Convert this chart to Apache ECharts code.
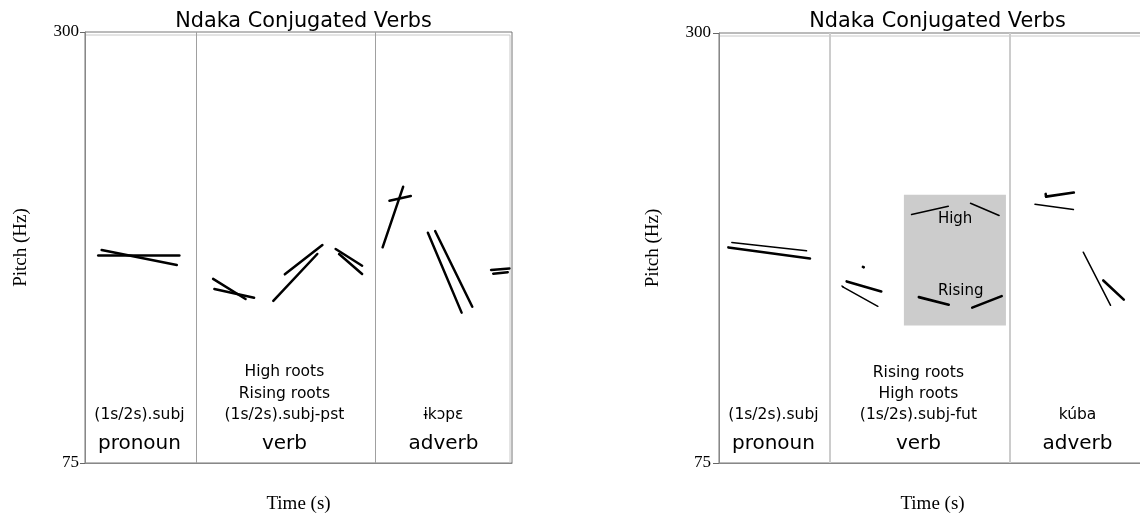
<!DOCTYPE html>
<html>
<head>
<meta charset="utf-8">
<script src="https://cdn.jsdelivr.net/npm/echarts@6/dist/echarts.min.js"></script>
<style>html,body{margin:0;padding:0;background:#fff;overflow:hidden}#c{width:1140px;height:516px}</style>
</head>
<body>
<div id="c"></div>
<script>
// ---------- data ----------
const chartTitle = 'Ndaka Conjugated Verbs';
const yTicks = [75, 300];                 // Pitch (Hz) axis ends
const timeRange = [0, 1];                 // normalised time (s)
const categories = ['pronoun', 'verb', 'adverb'];
const wordBoundaries = [0.255, 0.679];    // time of word boundaries

const leftGlosses = [['(1s/2s).subj'], ['(1s/2s).subj-pst', 'Rising roots', 'High roots'], ['ɨkɔpɛ']];
const rightGlosses = [['(1s/2s).subj'], ['(1s/2s).subj-fut', 'High roots', 'Rising roots'], ['kúba']];

// pitch segments: [t1, Hz1, t2, Hz2]
const leftContours = [
  [0.031, 183.6, 0.221, 183.6],
  [0.039, 186.2, 0.215, 178.4],
  [0.300, 171.1, 0.376, 160.6],
  [0.303, 165.8, 0.396, 161.3],
  [0.441, 159.6, 0.544, 184.1],
  [0.468, 173.5, 0.556, 188.8],
  [0.587, 186.7, 0.649, 178.0],
  [0.595, 184.1, 0.649, 173.7],
  [0.697, 187.6, 0.745, 219.2],
  [0.713, 211.9, 0.763, 214.4],
  [0.803, 195.2, 0.882, 153.5],
  [0.820, 196.1, 0.907, 156.6],
  [0.951, 175.8, 0.994, 176.6],
  [0.956, 173.8, 0.990, 174.6]
];
const rightContoursThick = [
  [0.022, 187.8, 0.213, 182.0],
  [0.299, 170.0, 0.380, 164.8],
  [0.468, 161.8, 0.538, 157.8],
  [0.593, 156.3, 0.662, 162.3],
  [0.766, 214.4, 0.831, 216.5],
  [0.765, 215.8, 0.766, 214.4],
  [0.900, 170.5, 0.948, 160.5],
  [0.337, 177.6, 0.339, 177.4]
];
const rightContoursThin = [
  [0.030, 190.4, 0.205, 186.0],
  [0.291, 167.0, 0.372, 157.0],
  [0.288, 167.6, 0.291, 167.0],
  [0.451, 205.0, 0.537, 209.3],
  [0.589, 210.9, 0.656, 204.5],
  [0.740, 210.4, 0.830, 207.6],
  [0.853, 185.3, 0.917, 157.5]
];
const highlightBox = [0.433, 0.672, 147.0, 215.4];   // t0, t1, Hz0, Hz1
const boxLabels = [['High', 0.553, 202.7], ['Rising', 0.566, 164.8]];

// ---------- build ----------
const SANS = 'DejaVu Sans';
const SERIF = 'Liberation Serif';
const colCenter = i => {
  const b = [timeRange[0], ...wordBoundaries, timeRange[1]];
  return (b[i] + b[i + 1]) / 2;
};
const glossRowHz = [100.1, 111.1, 122.3];
const catRowHz = 84.9;

function seg(s, w) {
  return { coords: [[s[0], s[1]], [s[2], s[3]]], lineStyle: w ? { width: w } : undefined };
}
function textPoints(glosses) {
  const pts = [];
  categories.forEach((c, i) => {
    pts.push({ value: [colCenter(i), catRowHz], name: c, label: { fontSize: 20 } });
    glosses[i].forEach((g, j) => pts.push({ value: [colCenter(i), glossRowHz[j]], name: g }));
  });
  return pts;
}

const grids = [
  { left: 85, top: 32, width: 427, height: 431, tick: 5, margin: 6, nameGapY: 54, divColor: '#a0a0a0', divWidth: 1 },
  { left: 719, top: 33, width: 427, height: 430, tick: 6, margin: 8, nameGapY: 56, divColor: '#cccccc', divWidth: 2 }
];

const option = {
  animation: false,
  backgroundColor: '#fff',
  title: grids.map(g => ({
    text: chartTitle, left: g.left + g.width / 2, top: 6, textAlign: 'center',
    textStyle: { fontFamily: SANS, fontSize: 20.8, fontWeight: 'normal', color: '#000' }
  })),
  grid: grids.map(g => ({
    left: g.left, top: g.top, width: g.width, height: g.height,
    outerBoundsMode: 'none', containLabel: false,
    show: true, borderColor: '#777', borderWidth: 1, backgroundColor: 'transparent'
  })),
  xAxis: grids.map((g, i) => ({
    gridIndex: i, type: 'value', min: timeRange[0], max: timeRange[1],
    name: 'Time (s)', nameLocation: 'middle', nameGap: 32,
    nameTextStyle: { fontFamily: SERIF, fontSize: 19, color: '#000' },
    axisLine: { show: true, lineStyle: { color: '#888' } }, axisTick: { show: false }, axisLabel: { show: false }, splitLine: { show: false }
  })),
  yAxis: grids.map((g, i) => ({
    gridIndex: i, type: 'value', min: yTicks[0], max: yTicks[1], interval: yTicks[1] - yTicks[0],
    name: 'Pitch (Hz)', nameLocation: 'middle', nameGap: g.nameGapY, nameRotate: 90,
    nameTextStyle: { fontFamily: SERIF, fontSize: 19, color: '#000' },
    axisLine: { show: true, lineStyle: { color: '#888' } },
    axisTick: { show: true, length: g.tick, lineStyle: { color: '#666' } },
    axisLabel: { show: true, margin: g.margin, fontFamily: SERIF, fontSize: 17, color: '#000' },
    splitLine: { show: false }
  })),
  series: []
};

grids.forEach((g, i) => {
  const isRight = i === 1;
  option.series.push({
    type: 'scatter', xAxisIndex: i, yAxisIndex: i, data: [], z: 1, silent: true,
    markLine: {
      silent: true, symbol: 'none', label: { show: false },
      lineStyle: { color: g.divColor, width: g.divWidth, type: 'solid' },
      data: wordBoundaries.map(b => ({ xAxis: b }))
    },
    markArea: isRight ? {
      silent: true, itemStyle: { color: '#cccccc', opacity: 1 },
      data: [[{ coord: [highlightBox[0], highlightBox[3]] }, { coord: [highlightBox[1], highlightBox[2]] }]]
    } : undefined
  });
  const lineData = isRight
    ? rightContoursThick.map(s => seg(s, 2.6)).concat(rightContoursThin.map(s => seg(s, 1.5)))
    : leftContours.map(s => seg(s, 2.5));
  option.series.push({
    type: 'lines', coordinateSystem: 'cartesian2d', xAxisIndex: i, yAxisIndex: i, z: 5, silent: true,
    lineStyle: { color: '#000', width: 2.5, opacity: 1, curveness: 0, cap: 'round' },
    data: lineData
  });
  const pts = textPoints(isRight ? rightGlosses : leftGlosses);
  if (isRight) boxLabels.forEach(b => pts.push({ value: [b[1], b[2]], name: b[0], label: { fontSize: 15 } }));
  option.series.push({
    type: 'scatter', xAxisIndex: i, yAxisIndex: i, symbolSize: 0, z: 6, silent: true,
    itemStyle: { opacity: 1, color: 'rgba(0,0,0,0)' },
    label: { show: true, position: 'inside', formatter: '{b}', fontFamily: SANS, fontSize: 15.5, color: '#000', opacity: 1 },
    data: pts
  });
});

// faint inner frame lines (Praat-style double border)
option.graphic = grids.map(g => ({
  type: 'group', silent: true, children: [
    { type: 'line', shape: { x1: g.left + 1, y1: g.top + 3, x2: g.left + g.width - 2, y2: g.top + 3 }, style: { stroke: '#c8c8c8', lineWidth: 1 } },
    { type: 'line', shape: { x1: g.left + g.width - 2, y1: g.top + 3, x2: g.left + g.width - 2, y2: g.top + g.height }, style: { stroke: '#c8c8c8', lineWidth: 1 } }
  ]
}));

const chart = echarts.init(document.getElementById('c'), null, { renderer: 'canvas' });
chart.setOption(option);
</script>
</body>
</html>
